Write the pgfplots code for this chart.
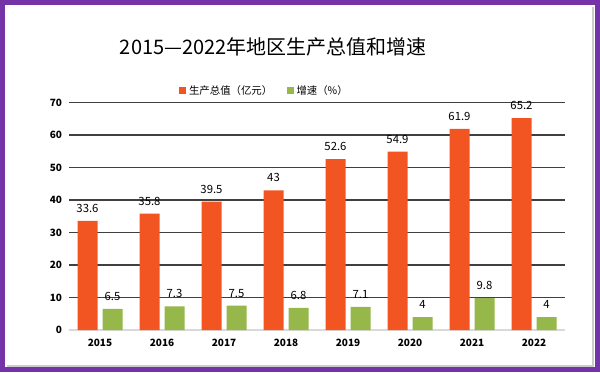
\documentclass[border=0pt]{standalone}
\usepackage{fontspec}
\setmainfont{Noto Sans CJK SC}
\usepackage{pgfplots}
\pgfplotsset{compat=1.18}
\definecolor{barorange}{HTML}{F25522}
\definecolor{bargreen}{HTML}{96B84A}
\definecolor{borderpurple}{HTML}{7434A8}
\definecolor{gridgray}{HTML}{404040}
\begin{document}
\begin{tikzpicture}[x=1pt,y=1pt]
\useasboundingbox (0,0) rectangle (450,279);
\fill[white] (0,0) rectangle (450,279);
\draw[gray!40, line width=1.5pt] (5,4.5) -- (445,4.5) -- (445,274);
\draw[borderpurple, line width=3.9pt] (1.95,1.95) rectangle (448.05,277.05);
\node[font=\fontsize{15}{18}\selectfont] at (205,243.5) {2015—2022年地区生产总值和增速};
\begin{axis}[
  at={(51.75pt,31.5pt)}, anchor=south west,
  scale only axis, width=372pt, height=170.6pt,
  ybar=3.75pt, bar width=15pt,
  xmin=-0.5, xmax=7.5, ymin=0, ymax=70,
  xtick=data, xticklabels={2015,2016,2017,2018,2019,2020,2021,2022},
  ytick={10,20,...,70},
  extra y ticks={0},
  extra y tick style={grid style={draw=gray!30, line width=0.9pt}},
  ymajorgrids, grid style={draw=gridgray, line width=0.8pt},
  axis line style={draw=none},
  major tick length=0pt,
  /pgf/number format/assume math mode=true,
  tick label style={font=\fontsize{7.5}{9}\selectfont\bfseries},
  xticklabel style={inner sep=0pt, yshift=-6.5pt},
  yticklabel style={inner sep=0pt, xshift=-5pt},
  nodes near coords={\pgfmathprintnumber[fixed,precision=1]{\pgfplotspointmeta}},
  nodes near coords style={font=\fontsize{8.5}{10}\selectfont, inner sep=0pt, yshift=6pt, black},
  legend columns=2,
  legend style={at={(0.395,1.052)}, anchor=center, draw=none, fill=none,
    font=\fontsize{7.8}{9}\selectfont, /tikz/every even column/.append style={column sep=9pt}},
  legend image code/.code={\fill[#1] (0pt,-2.6pt) rectangle (5.2pt,2.6pt);},
]
\addplot[fill=barorange, draw=none] coordinates {(0,33.6) (1,35.8) (2,39.5) (3,43) (4,52.6) (5,54.9) (6,61.9) (7,65.2)};
\addplot[fill=bargreen, draw=none] coordinates {(0,6.5) (1,7.3) (2,7.5) (3,6.8) (4,7.1) (5,4) (6,9.8) (7,4)};
\legend{生产总值（亿元）, 增速（\%）}
\end{axis}
\end{tikzpicture}
\end{document}
